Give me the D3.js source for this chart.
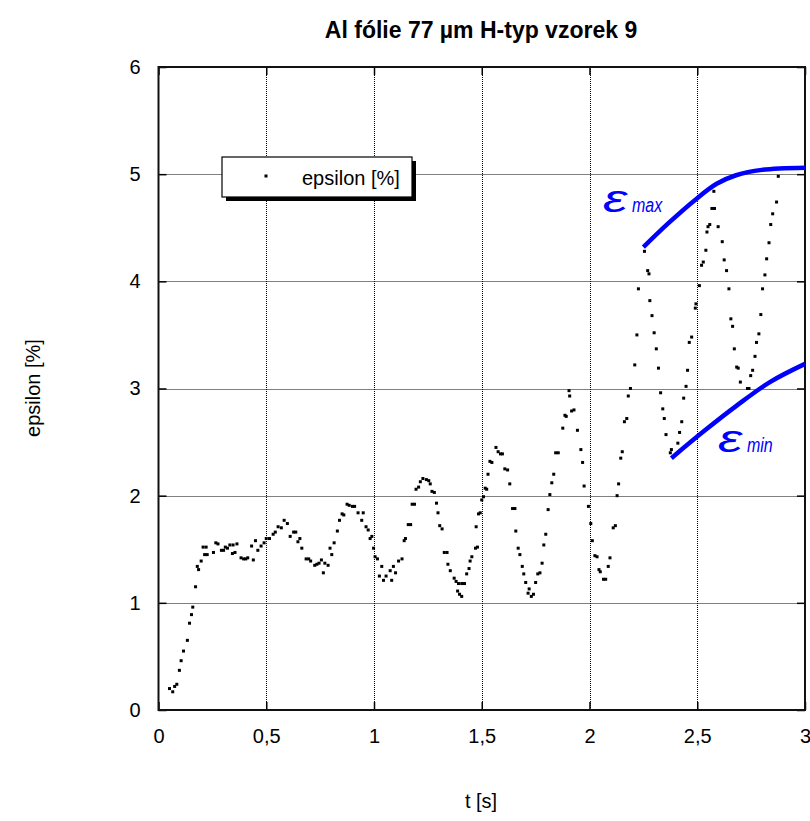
<!DOCTYPE html>
<html><head><meta charset="utf-8">
<script src="https://cdn.jsdelivr.net/npm/d3@7"></script>
<style>
body{margin:0;background:#fff;}
svg{display:block;font-family:"Liberation Sans",Arial,sans-serif;}
</style></head>
<body><svg id="c" width="810" height="821"></svg>
<script>
// ---- data ----
const tValues = [0.051,0.066,0.075,0.085,0.097,0.105,0.116,0.134,0.144,0.153,0.159,0.172,0.180,0.186,0.198,0.207,0.214,0.221,0.226,0.255,0.266,0.276,0.292,0.302,0.310,0.320,0.331,0.343,0.346,0.355,0.364,0.383,0.395,0.405,0.414,0.432,0.440,0.450,0.461,0.476,0.490,0.500,0.515,0.532,0.542,0.555,0.570,0.583,0.598,0.611,0.627,0.637,0.647,0.656,0.665,0.685,0.697,0.706,0.725,0.735,0.745,0.756,0.765,0.772,0.787,0.796,0.804,0.815,0.830,0.840,0.852,0.860,0.875,0.885,0.900,0.910,0.926,0.943,0.950,0.963,0.973,0.982,0.990,0.998,1.005,1.016,1.025,1.036,1.044,1.056,1.075,1.082,1.090,1.100,1.114,1.130,1.140,1.146,1.159,1.170,1.177,1.188,1.195,1.207,1.215,1.227,1.243,1.254,1.261,1.269,1.280,1.290,1.297,1.305,1.316,1.326,1.339,1.343,1.354,1.372,1.381,1.388,1.392,1.397,1.407,1.407,1.420,1.430,1.441,1.446,1.454,1.471,1.474,1.480,1.485,1.493,1.500,1.508,1.516,1.523,1.529,1.538,1.547,1.566,1.576,1.587,1.596,1.607,1.620,1.630,1.643,1.654,1.658,1.669,1.677,1.688,1.695,1.704,1.715,1.720,1.730,1.740,1.750,1.760,1.770,1.780,1.788,1.797,1.808,1.816,1.825,1.834,1.843,1.855,1.876,1.886,1.892,1.905,1.908,1.917,1.928,1.944,1.960,1.968,1.975,1.995,2.006,2.013,2.025,2.035,2.044,2.050,2.065,2.075,2.087,2.095,2.110,2.120,2.128,2.135,2.145,2.152,2.162,2.173,2.180,2.190,2.210,2.220,2.227,2.255,2.270,2.276,2.280,2.290,2.300,2.310,2.320,2.330,2.340,2.347,2.355,2.375,2.380,2.410,2.418,2.428,2.437,2.448,2.455,2.463,2.474,2.491,2.494,2.510,2.520,2.528,2.540,2.545,2.550,2.558,2.568,2.580,2.577,2.597,2.616,2.625,2.636,2.647,2.656,2.664,2.672,2.683,2.690,2.700,2.733,2.740,2.748,2.757,2.768,2.775,2.786,2.795,2.803,2.814,2.822,2.833,2.841,2.850,2.868,2.876];
const epsValues = [0.20,0.17,0.22,0.24,0.37,0.46,0.55,0.65,0.81,0.89,0.96,1.15,1.34,1.31,1.39,1.52,1.45,1.52,1.45,1.47,1.56,1.55,1.49,1.49,1.52,1.51,1.54,1.46,1.54,1.47,1.55,1.42,1.41,1.41,1.42,1.53,1.40,1.58,1.49,1.53,1.56,1.60,1.60,1.64,1.66,1.71,1.70,1.77,1.74,1.62,1.66,1.66,1.57,1.60,1.51,1.41,1.41,1.39,1.35,1.36,1.37,1.40,1.28,1.37,1.35,1.51,1.45,1.56,1.67,1.77,1.83,1.82,1.92,1.91,1.90,1.90,1.84,1.77,1.84,1.71,1.68,1.60,1.62,1.51,1.43,1.41,1.25,1.34,1.21,1.25,1.30,1.21,1.34,1.28,1.39,1.41,1.58,1.60,1.73,1.73,1.92,1.92,2.06,2.08,2.13,2.16,2.15,2.14,2.11,2.04,2.03,1.93,1.84,1.72,1.69,1.47,1.47,1.36,1.30,1.23,1.20,1.11,1.18,1.08,1.06,1.18,1.18,1.27,1.32,1.39,1.43,1.51,1.71,1.52,1.83,1.84,1.96,1.99,2.07,2.06,2.20,2.32,2.31,2.45,2.41,2.39,2.39,2.25,2.24,2.11,1.88,1.88,1.67,1.51,1.45,1.34,1.27,1.19,1.09,1.13,1.06,1.08,1.19,1.27,1.28,1.37,1.54,1.64,1.87,2.01,2.12,2.20,2.40,2.40,2.63,2.75,2.74,2.98,2.93,2.79,2.80,2.61,2.43,2.31,2.09,1.90,1.74,1.58,1.44,1.43,1.31,1.29,1.22,1.22,1.34,1.42,1.70,1.72,2.00,2.11,2.35,2.41,2.69,2.72,2.93,3.00,3.22,3.50,3.93,4.28,4.10,4.07,3.82,3.68,3.52,3.37,3.19,2.96,2.81,2.72,2.57,2.40,2.43,2.49,2.59,2.69,2.91,3.02,3.17,3.43,3.48,3.75,3.79,3.96,4.15,4.18,4.29,4.46,4.51,4.53,4.68,4.68,4.84,4.51,4.37,4.20,4.10,3.93,3.65,3.58,3.37,3.20,3.19,3.06,3.00,3.00,3.12,3.17,3.30,3.43,3.51,3.69,3.93,4.06,4.21,4.36,4.53,4.63,4.74,4.98];
const envMaxT = [2.25,2.37,2.49,2.59,2.68,2.80,3.0];
const envMaxE = [4.32,4.55,4.76,4.91,4.99,5.04,5.06];
const envMinT = [2.38,2.53,2.683,2.837,3.0];
const envMinE = [2.35,2.60,2.84,3.06,3.23];
const xTicks = [0,0.5,1,1.5,2,2.5,3];
const xTickLabels = ["0","0,5","1","1,5","2","2,5","3"];
const yTicks = [0,1,2,3,4,5,6];
const titleText = "Al fólie 77 µm H-typ vzorek 9";
const xLabel = "t [s]";
const yLabel = "epsilon [%]";
const legendLabel = "epsilon [%]";

// ---- layout ----
const L = 158.5, R = 805, T = 67, B = 710;
const FONT = "'Liberation Sans',Arial,sans-serif";
const svg = d3.select("#c");
const x = d3.scaleLinear().domain([0,3]).range([L,R]);
const y = d3.scaleLinear().domain([0,6]).range([B,T]);

// grid
const g = svg.append("g");
g.selectAll(".gx").data(xTicks.slice(1,-1)).enter().append("line")
  .attr("x1",d=>Math.round(x(d))+0.5).attr("x2",d=>Math.round(x(d))+0.5)
  .attr("y1",T).attr("y2",B).attr("stroke","#000").attr("stroke-width",1).attr("stroke-dasharray","1,1");
g.selectAll(".gy").data(yTicks.slice(1,-1)).enter().append("line")
  .attr("y1",d=>Math.round(y(d))+0.5).attr("y2",d=>Math.round(y(d))+0.5)
  .attr("x1",L).attr("x2",R).attr("stroke","#000").attr("stroke-width",1).attr("stroke-dasharray","1,1");

// axes with inward ticks
const fmt = d => xTickLabels[xTicks.indexOf(d)];
const axB = svg.append("g").attr("transform",`translate(0,${B})`)
  .call(d3.axisBottom(x).tickValues(xTicks).tickFormat(fmt).tickSizeInner(-8).tickSizeOuter(0).tickPadding(19));
const axT = svg.append("g").attr("transform",`translate(0,${T})`)
  .call(d3.axisTop(x).tickValues(xTicks).tickFormat("").tickSizeInner(-8).tickSizeOuter(0));
const axL = svg.append("g").attr("transform",`translate(${L},0)`)
  .call(d3.axisLeft(y).tickValues(yTicks).tickFormat(d3.format("d")).tickSizeInner(-8).tickSizeOuter(0).tickPadding(18));
const axR = svg.append("g").attr("transform",`translate(${R},0)`)
  .call(d3.axisRight(y).tickValues(yTicks).tickFormat("").tickSizeInner(-8).tickSizeOuter(0));
[axB,axT,axL,axR].forEach(a=>{
  a.select(".domain").remove();
  a.selectAll(".tick line").attr("stroke","#000").attr("stroke-width",1.5);
  a.selectAll("text").attr("font-size",20).attr("fill","#000").attr("font-family",FONT);
});
// frame
svg.append("rect").attr("x",L).attr("y",T).attr("width",R-L).attr("height",B-T)
  .attr("fill","none").attr("stroke","#111").attr("stroke-width",2);

// data points
const pts = tValues.map((t,i)=>({t, e:epsValues[i]}));
svg.append("g").selectAll("rect").data(pts).enter().append("rect")
  .attr("x",d=>x(d.t)-1.5).attr("y",d=>y(d.e)-1.5).attr("width",3).attr("height",3).attr("fill","#000");

// envelopes
const line = d3.line().x(d=>x(d[0])).y(d=>y(d[1])).curve(d3.curveCatmullRom.alpha(0.5));
svg.append("path").attr("d",line(envMaxT.map((t,i)=>[t,envMaxE[i]])))
  .attr("fill","none").attr("stroke","#0000ff").attr("stroke-width",4.5);
svg.append("path").attr("d",line(envMinT.map((t,i)=>[t,envMinE[i]])))
  .attr("fill","none").attr("stroke","#0000ff").attr("stroke-width",4.5);

// envelope labels
function envLabel(px,py,sub){
  const gg = svg.append("g").attr("transform",`translate(${px},${py})`);
  gg.append("text").attr("transform","scale(1.45,1)").attr("font-size",38).attr("font-style","italic")
    .attr("fill","#0000ff").attr("font-family",FONT).text("ε");
  gg.append("text").attr("x",29).attr("transform","scale(1,1.25)").attr("font-size",16).attr("font-style","italic")
    .attr("fill","#0000ff").attr("font-family",FONT).text(sub);
}
envLabel(603,212,"max");
envLabel(718,452,"min");

// legend
const lg = svg.append("g");
lg.append("rect").attr("x",226).attr("y",161).attr("width",190).attr("height",40).attr("fill","#000");
lg.append("rect").attr("x",222).attr("y",157).attr("width",190).attr("height",40).attr("fill","#fff").attr("stroke","#000").attr("stroke-width",1.2);
lg.append("rect").attr("x",264.5).attr("y",174.5).attr("width",3).attr("height",3).attr("fill","#000");
lg.append("text").attr("x",302).attr("y",185).attr("font-size",20).attr("fill","#000").attr("font-family",FONT).text(legendLabel);

// titles
svg.append("text").attr("x",481).attr("y",38).attr("text-anchor","middle")
  .attr("font-size",23).attr("font-weight","bold").attr("fill","#000")
  .attr("font-family",FONT).text(titleText);
svg.append("text").attr("x",481).attr("y",808).attr("text-anchor","middle").attr("font-size",20).attr("fill","#000").attr("font-family",FONT).text(xLabel);
svg.append("text").attr("transform","translate(40,388) rotate(-90)").attr("text-anchor","middle").attr("font-size",20).attr("fill","#000").attr("font-family",FONT).text(yLabel);
</script></body></html>
